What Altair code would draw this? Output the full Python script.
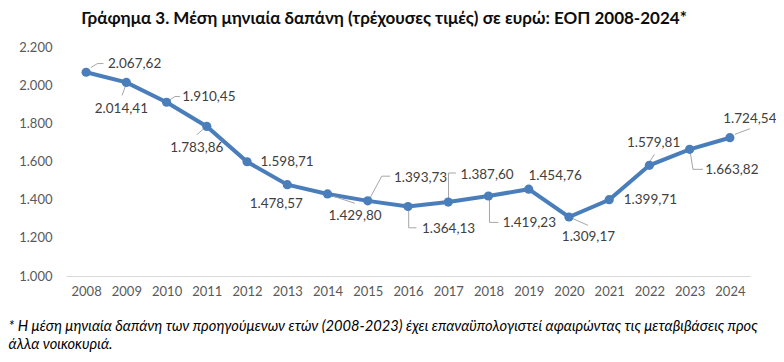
import altair as alt
import pandas as pd

years = [str(y) for y in range(2008, 2025)]
values = [2067.62, 2014.41, 1910.45, 1783.86, 1598.71, 1478.57, 1429.80, 1393.73,
          1364.13, 1387.60, 1419.23, 1454.76, 1309.17, 1399.71, 1579.81, 1663.82, 1724.54]
y_ticks = [1000, 1200, 1400, 1600, 1800, 2000, 2200]

title_text = "Γράφημα 3. Μέση μηνιαία δαπάνη (τρέχουσες τιμές) σε ευρώ: ΕΟΠ 2008-2024*"
footnote = ["* Η μέση μηνιαία δαπάνη των προηγούμενων ετών (2008-2023) έχει επαναϋπολογιστεί αφαιρώντας τις μεταβιβάσεις προς",
            "άλλα νοικοκυριά."]

# label placement (pixel offsets from each point), layout only
label_dx = [48.5, -5, 42.3, -10, 40, -11, 27.5, 52.8, 40.5, 38.8, 40.9, 26.4, 19.5, 41.2, 4.2, 42.2, 20]
label_dy = [-8.4, 26.3, -5.7, 21.6, 0, 19.7, 21.7, -23, 22.3, -26.7, 27.4, -13.3, 20, 0, -22.3, 21, -19]
leaders = {
    "2008": [(4.7, -4.7), (11.3, -8.7), (17.3, -8.7)],
    "2009": [(-1, 4), (-4.3, 13)],
    "2010": [(3.3, -2.4), (8.3, -5.7), (13.3, -5.7)],
    "2011": [(-3.4, 2.6), (-10, 8.3)],
    "2014": [(5.7, 2.3), (27.3, 9.3)],
    "2015": [(2.3, -3), (14, -24.7), (22.3, -24.7)],
    "2016": [(0.7, 2.3), (0.7, 21.3), (8.4, 21.3)],
    "2017": [(0.3, -2.4), (0.3, -29), (7.7, -29)],
    "2018": [(1, 2.4), (1, 26.4), (10, 26.4)],
    "2020": [(2.4, 1), (19, 8.3)],
    "2022": [(0, -3.3), (5, -11)],
    "2023": [(0.7, 3.4), (3.3, 20), (13.3, 20)],
    "2024": [(5, -3.4), (20, -9)],
}

Y_MIN, Y_MAX, H = 1000, 2200, 229
K = (Y_MAX - Y_MIN) / H  # data units per pixel


def gr(v):
    return f"{v:,.2f}".replace(",", "X").replace(".", ",").replace("X", ".")


df = pd.DataFrame({"year": years, "value": values,
                   "label": [gr(v) for v in values],
                   "lx": label_dx, "ly": label_dy})

lead_rows = []
for y, pts in leaders.items():
    v = values[years.index(y)]
    for i, (dx, dy) in enumerate(pts):
        lead_rows.append({"year": y, "value": v, "ox": dx, "oy": dy, "seq": i})
ldf = pd.DataFrame(lead_rows)

FONT = "Lato"
xscale = alt.Scale(type="point", padding=0.5)
yscale = alt.Scale(domain=[Y_MIN, Y_MAX], nice=False, zero=False)

x_axis = alt.Axis(title=footnote, labelAngle=0, ticks=False, domainColor="#d9d9d9",
                  domainWidth=1, labelColor="#595959", labelFont=FONT, labelFontSize=13,
                  labelPadding=9, titleFont=FONT, titleFontSize=14.7, titleFontStyle="italic",
                  titleFontWeight="normal", titleColor="#000000", titleAlign="left",
                  titleAnchor="start", titleX=-58, titleY=54, titleBaseline="alphabetic",
                  titleLineHeight=18)
y_axis = alt.Axis(title=None, values=y_ticks,
                  labelExpr="replace(format(datum.value, ',.0f'), ',', '.')",
                  labelOverlap=False,
                  grid=False, domain=False, ticks=False, labelColor="#595959",
                  labelFont=FONT, labelFontSize=13, labelPadding=14)


def xe():
    return alt.X("year:O", scale=xscale, sort=years, axis=x_axis)


def ye(field):
    return alt.Y(field, scale=yscale, axis=y_axis)


base = alt.Chart(df)
line = base.mark_line(color="#4a7ebb", strokeWidth=4).encode(x=xe(), y=ye("value:Q"))
pts = base.mark_circle(color="#4a7ebb", size=85, opacity=1).encode(x=xe(), y=ye("value:Q"))

leader_lines = alt.Chart(ldf).transform_calculate(
    value=f"datum.value - datum.oy * {K}"
).mark_line(color="#a6a6a6", strokeWidth=1).encode(
    x=xe(),
    y=ye("value:Q"),
    xOffset=alt.XOffset("ox:Q", scale=None),
    detail="year:N",
    order="seq:Q",
)

labels = base.transform_calculate(
    value=f"datum.value - datum.ly * {K}"
).mark_text(font=FONT, fontSize=13.5, color="#404040", align="center",
            baseline="middle").encode(
    x=xe(),
    y=ye("value:Q"),
    xOffset=alt.XOffset("lx:Q", scale=None),
    text="label:N",
)

chart = alt.layer(line, leader_lines, pts, labels).properties(
    width=684, height=H,
    title=alt.TitleParams(title_text, font=FONT, fontSize=17, fontWeight="bold",
                          color="#0d0d0d", anchor="middle", dx=-24, offset=13),
    autosize=alt.AutoSizeParams(type="none"),
    padding={"left": 58, "top": 39, "right": 26, "bottom": 76},
).configure_view(stroke=None)

chart.save("out.html", embed_options={"renderer": "svg", "actions": False})
